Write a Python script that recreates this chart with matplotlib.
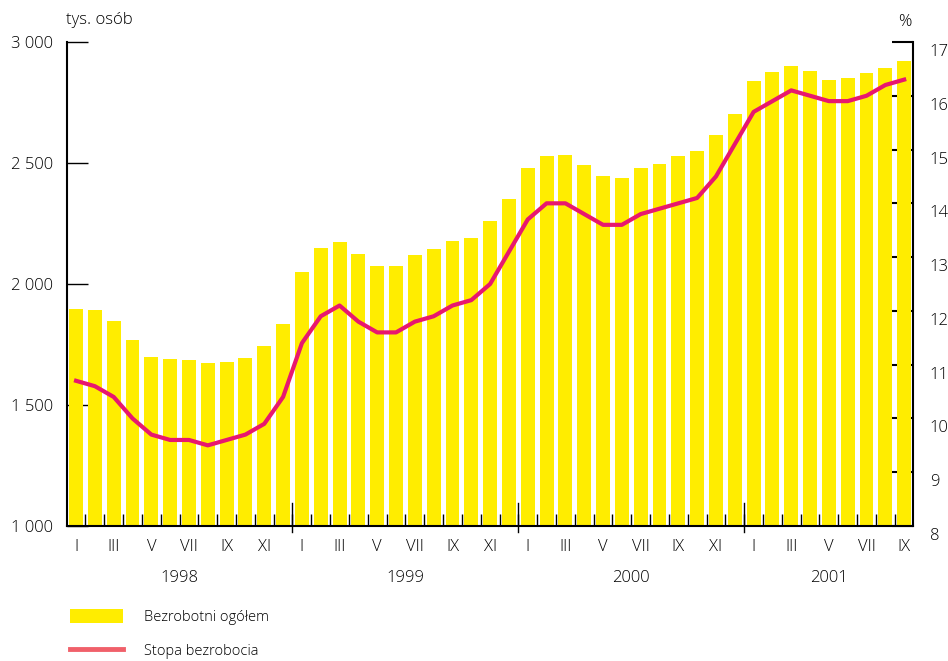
import numpy as np
import matplotlib
matplotlib.use('Agg')
import matplotlib.pyplot as plt
import matplotlib.transforms as mtransforms
from matplotlib.patches import Patch
from matplotlib.lines import Line2D

plt.rcParams['font.family'] = ['Open Sans', 'DejaVu Sans']
plt.rcParams['font.weight'] = 'light'

# Monthly data, I 1998 - IX 2001
months = ['I', 'II', 'III', 'IV', 'V', 'VI', 'VII', 'VIII', 'IX', 'X', 'XI', 'XII']
years = ['1998', '1999', '2000', '2001']
months_per_year = [12, 12, 12, 9]

# unemployed total, thousands of persons
unemployed = [1897, 1892, 1847, 1769, 1698, 1690, 1686, 1673, 1678, 1694, 1744, 1836,
              2050, 2149, 2173, 2124, 2074, 2074, 2120, 2145, 2178, 2190, 2260, 2351,
              2479, 2529, 2533, 2492, 2446, 2438, 2479, 2496, 2529, 2549, 2616, 2702,
              2839, 2876, 2901, 2880, 2843, 2851, 2872, 2892, 2921]

# unemployment rate, %
rate = [10.7, 10.6, 10.4, 10.0, 9.7, 9.6, 9.6, 9.5, 9.6, 9.7, 9.9, 10.4,
        11.4, 11.9, 12.1, 11.8, 11.6, 11.6, 11.8, 11.9, 12.1, 12.2, 12.5, 13.1,
        13.7, 14.0, 14.0, 13.8, 13.6, 13.6, 13.8, 13.9, 14.0, 14.1, 14.5, 15.1,
        15.7, 15.9, 16.1, 16.0, 15.9, 15.9, 16.0, 16.2, 16.3]

left_ticks = [1000, 1500, 2000, 2500, 3000]
right_ticks = [8, 9, 10, 11, 12, 13, 14, 15, 16, 17]
legend_labels = ['Bezrobotni ogółem', 'Stopa bezrobocia']

bar_color = '#FFED00'
line_color = '#E8176F'

x = np.arange(len(unemployed))
month_labels = [months[i] for n in months_per_year for i in range(n)]

fig = plt.figure(figsize=(9.48, 6.61), dpi=100)
ax = fig.add_axes([0.0707, 0.2042, 0.8924, 0.7323])
ax2 = ax.twinx()   # right scale ticks (drawn below the bars)
ax3 = ax.twinx()   # line on top
ax2.set_zorder(0)
ax.set_zorder(1)
ax3.set_zorder(2)
ax.patch.set_visible(False)

ax.bar(x, unemployed, width=0.74, color=bar_color, zorder=1)
ax.set_xlim(-0.48, 44.47)
ax.set_ylim(1000, 3000)
ax.set_axisbelow(True)
ax.set_yticks(left_ticks)
ax.set_yticklabels([f'{v:,}'.replace(',', ' ') for v in left_ticks])
ax.tick_params(axis='y', direction='in', length=15, width=1, pad=10, labelsize=12)

# month labels on every other month
lab_pos = [i for i in x if month_labels[i] in ('I', 'III', 'V', 'VII', 'IX', 'XI')]
ax.set_xticks(lab_pos)
ax.set_xticklabels([month_labels[i] for i in lab_pos])
ax.tick_params(axis='x', which='major', length=0, pad=9, labelsize=12)
ax.set_xticks(np.arange(0.5, len(x) - 1, 1), minor=True)
ax.tick_params(axis='x', which='minor', direction='in', length=8.5, width=1, color='black')

ax.spines['top'].set_visible(False)
for s in ['left', 'bottom', 'right']:
    ax.spines[s].set_linewidth(1.5)

# year separators and year labels
start = 0
for yr, n in zip(years, months_per_year):
    if start > 0:
        ax.plot([start - 0.5, start - 0.5], [-6 / 484, 23 / 484], transform=ax.get_xaxis_transform(),
                color='black', lw=1, clip_on=False, zorder=3)
    ax.text(start + (n - 1) / 2, -0.107, yr, transform=ax.get_xaxis_transform(),
            ha='center', va='center', fontsize=12)
    start += n

ax2.set_ylim(8, 17)
ax2.set_yticks(right_ticks)
ax2.tick_params(axis='y', direction='in', length=15, width=1.5, pad=12, labelsize=12)
shift = mtransforms.ScaledTranslation(0, -8 / 100, fig.dpi_scale_trans)
for lab in ax2.get_yticklabels():
    lab.set_transform(lab.get_transform() + shift)
for s in ax2.spines.values():
    s.set_visible(False)

ax3.set_ylim(8, 17)
ax3.plot(x, rate, color=line_color, lw=3)
ax3.axis('off')

fig.text(66 / 948, 1 - 20 / 661, 'tys. osób', ha='left', va='center', fontsize=12)
fig.text(905 / 948, 1 - 22 / 661, '%', ha='center', va='center', fontsize=12)

handles = [Patch(facecolor=bar_color), Line2D([], [], color='#F0606A', lw=3.5)]
fig.legend(handles=handles, labels=legend_labels, loc='upper left',
           bbox_to_anchor=(70 / 948, 1 - 609 / 661), frameon=False, fontsize=10.5,
           handlelength=3.6, handleheight=1.1, handletextpad=1.5, labelspacing=1.25,
           borderpad=0, borderaxespad=0)

plt.savefig('out.png', dpi=100)
